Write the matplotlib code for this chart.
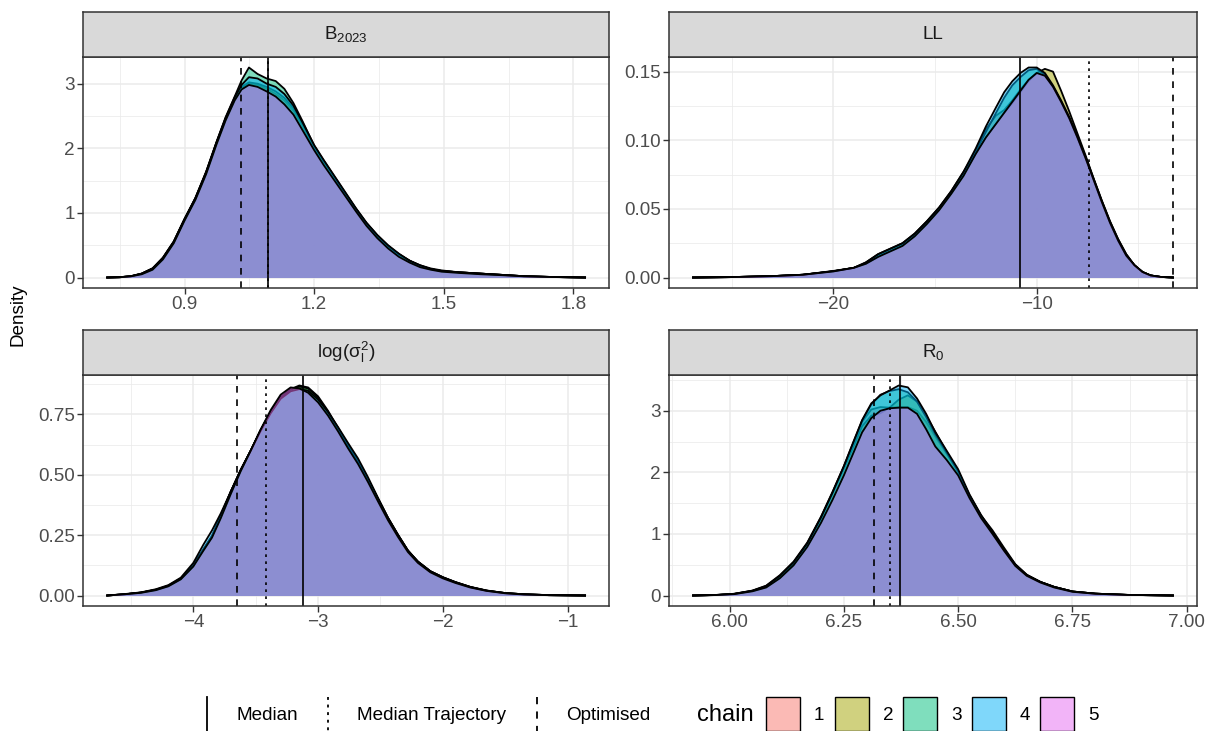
import matplotlib
matplotlib.use("Agg")
import matplotlib.pyplot as plt
from matplotlib.patches import Rectangle

plt.rcParams['font.family'] = ['Liberation Sans', 'DejaVu Sans']
plt.rcParams['mathtext.fontset'] = 'custom'
plt.rcParams['mathtext.rm'] = 'Liberation Sans'
plt.rcParams['mathtext.it'] = 'Liberation Sans:italic'

# ---- data ----
chainNames = ['1', '2', '3', '4', '5']
chainColors = ['#F8766D', '#A3A500', '#00BF7D', '#00B0F6', '#E76BF3']

b2023X = [0.721, 0.751, 0.776, 0.801, 0.826, 0.850, 0.875, 0.900, 0.925, 0.950, 0.974, 0.995, 1.016, 1.032,
          1.049, 1.069, 1.090, 1.111, 1.131, 1.152, 1.173, 1.200, 1.222, 1.247, 1.272, 1.297, 1.321, 1.346,
          1.371, 1.396, 1.421, 1.445, 1.470, 1.495, 1.536, 1.586, 1.636, 1.685, 1.751, 1.827]
b2023Dens = [
    [0.0, 0.005, 0.02, 0.06, 0.14, 0.30, 0.55, 0.90, 1.22, 1.62, 2.08, 2.45, 2.76, 2.93, 3.00, 2.98, 2.92, 2.84, 2.74, 2.58,
     2.34, 2.00, 1.78, 1.53, 1.29, 1.05, 0.83, 0.64, 0.48, 0.35, 0.25, 0.18, 0.13, 0.10, 0.08, 0.06, 0.04, 0.02, 0.008, 0.0],
    [0.0, 0.005, 0.02, 0.06, 0.14, 0.31, 0.56, 0.91, 1.23, 1.63, 2.09, 2.46, 2.77, 2.95, 3.02, 3.00, 2.95, 2.88, 2.78, 2.62,
     2.37, 2.02, 1.80, 1.55, 1.30, 1.06, 0.84, 0.65, 0.49, 0.36, 0.26, 0.18, 0.13, 0.10, 0.08, 0.06, 0.04, 0.02, 0.008, 0.0],
    [0.0, 0.005, 0.02, 0.06, 0.14, 0.30, 0.55, 0.90, 1.23, 1.64, 2.10, 2.48, 2.80, 3.05, 3.25, 3.15, 3.08, 3.04, 2.92, 2.70,
     2.42, 2.04, 1.81, 1.56, 1.31, 1.06, 0.84, 0.65, 0.49, 0.36, 0.26, 0.19, 0.13, 0.10, 0.08, 0.06, 0.04, 0.02, 0.008, 0.0],
    [0.0, 0.005, 0.02, 0.06, 0.14, 0.30, 0.55, 0.90, 1.22, 1.63, 2.09, 2.47, 2.79, 2.98, 3.10, 3.08, 3.00, 2.95, 2.84, 2.66,
     2.40, 2.05, 1.82, 1.57, 1.32, 1.07, 0.85, 0.66, 0.50, 0.37, 0.26, 0.19, 0.14, 0.11, 0.08, 0.06, 0.04, 0.02, 0.008, 0.0],
    [0.0, 0.004, 0.018, 0.05, 0.12, 0.28, 0.53, 0.88, 1.20, 1.60, 2.06, 2.43, 2.74, 2.91, 2.98, 2.95, 2.88, 2.80, 2.68, 2.52,
     2.28, 1.97, 1.74, 1.50, 1.26, 1.02, 0.80, 0.61, 0.45, 0.32, 0.23, 0.16, 0.12, 0.09, 0.07, 0.05, 0.035, 0.018, 0.007, 0.0],
]

llX = [-26.9, -25.0, -23.0, -21.5, -20.0, -19.0, -18.4, -17.8, -17.2, -16.6, -16.0, -15.4, -14.8, -14.2,
       -13.6, -13.0, -12.5, -12.0, -11.6, -11.2, -10.8, -10.4, -10.0, -9.6, -9.2, -8.8, -8.4, -8.0,
       -7.6, -7.2, -6.8, -6.4, -6.0, -5.6, -5.2, -4.8, -4.4, -3.9, -3.3]
llDens = [
    [0.0, 0.0003, 0.001, 0.002, 0.0045, 0.007, 0.010, 0.016, 0.020, 0.024, 0.031, 0.040, 0.050, 0.062, 0.075, 0.091,
     0.108, 0.118, 0.122, 0.129, 0.137, 0.144, 0.149, 0.147, 0.139, 0.128, 0.116, 0.102, 0.087, 0.071, 0.055, 0.040,
     0.027, 0.016, 0.009, 0.004, 0.0015, 0.0004, 0.0],
    [0.0, 0.0003, 0.001, 0.002, 0.0045, 0.007, 0.010, 0.015, 0.020, 0.024, 0.031, 0.040, 0.050, 0.062, 0.075, 0.090,
     0.102, 0.112, 0.120, 0.127, 0.135, 0.143, 0.149, 0.152, 0.150, 0.136, 0.121, 0.105, 0.089, 0.072, 0.056, 0.041,
     0.028, 0.017, 0.009, 0.004, 0.0015, 0.0004, 0.0],
    [0.0, 0.0003, 0.001, 0.002, 0.0046, 0.007, 0.011, 0.017, 0.021, 0.025, 0.032, 0.041, 0.051, 0.063, 0.077, 0.092,
     0.106, 0.120, 0.131, 0.140, 0.146, 0.151, 0.152, 0.148, 0.139, 0.128, 0.116, 0.102, 0.087, 0.071, 0.055, 0.040,
     0.027, 0.016, 0.009, 0.004, 0.0015, 0.0004, 0.0],
    [0.0, 0.0003, 0.001, 0.002, 0.0048, 0.007, 0.011, 0.017, 0.021, 0.025, 0.032, 0.041, 0.051, 0.063, 0.077, 0.094,
     0.110, 0.124, 0.135, 0.143, 0.149, 0.153, 0.153, 0.149, 0.140, 0.129, 0.117, 0.103, 0.088, 0.072, 0.056, 0.041,
     0.028, 0.017, 0.009, 0.004, 0.0015, 0.0004, 0.0],
    [0.0, 0.0003, 0.001, 0.002, 0.0044, 0.007, 0.010, 0.015, 0.019, 0.023, 0.030, 0.039, 0.049, 0.061, 0.074, 0.090,
     0.102, 0.112, 0.120, 0.128, 0.136, 0.144, 0.149, 0.147, 0.139, 0.128, 0.116, 0.102, 0.087, 0.071, 0.055, 0.040,
     0.027, 0.016, 0.009, 0.004, 0.0015, 0.0004, 0.0],
]

sigmaX = [-4.69, -4.55, -4.42, -4.30, -4.20, -4.10, -4.00, -3.92, -3.85, -3.78, -3.70, -3.62, -3.54, -3.46,
          -3.38, -3.30, -3.22, -3.15, -3.08, -3.00, -2.92, -2.84, -2.76, -2.68, -2.60, -2.52, -2.44, -2.36,
          -2.28, -2.20, -2.10, -2.00, -1.90, -1.78, -1.65, -1.50, -1.35, -1.15, -0.86]
sigmaDens = [
    [0.0, 0.005, 0.012, 0.024, 0.040, 0.070, 0.125, 0.19, 0.245, 0.33, 0.43, 0.52, 0.60, 0.685, 0.76, 0.82, 0.85, 0.86,
     0.85, 0.81, 0.755, 0.69, 0.62, 0.555, 0.48, 0.40, 0.32, 0.25, 0.185, 0.14, 0.10, 0.075, 0.055, 0.035, 0.020, 0.010,
     0.005, 0.0015, 0.0],
    [0.0, 0.005, 0.012, 0.023, 0.039, 0.069, 0.124, 0.19, 0.243, 0.33, 0.43, 0.52, 0.60, 0.685, 0.76, 0.822, 0.855, 0.870,
     0.862, 0.825, 0.765, 0.695, 0.625, 0.558, 0.482, 0.402, 0.322, 0.252, 0.187, 0.141, 0.101, 0.076, 0.056, 0.036, 0.021,
     0.010, 0.005, 0.0015, 0.0],
    [0.0, 0.005, 0.012, 0.024, 0.041, 0.071, 0.126, 0.19, 0.248, 0.33, 0.43, 0.52, 0.60, 0.686, 0.761, 0.821, 0.853, 0.866,
     0.858, 0.820, 0.760, 0.692, 0.622, 0.556, 0.481, 0.401, 0.321, 0.251, 0.186, 0.140, 0.100, 0.075, 0.055, 0.035, 0.020,
     0.010, 0.005, 0.0015, 0.0],
    [0.0, 0.006, 0.013, 0.026, 0.043, 0.074, 0.135, 0.21, 0.270, 0.34, 0.43, 0.52, 0.60, 0.682, 0.755, 0.815, 0.846, 0.855,
     0.848, 0.812, 0.760, 0.698, 0.632, 0.568, 0.490, 0.405, 0.323, 0.252, 0.186, 0.140, 0.100, 0.075, 0.055, 0.035, 0.020,
     0.010, 0.005, 0.0015, 0.0],
    [0.0, 0.005, 0.011, 0.022, 0.038, 0.067, 0.120, 0.185, 0.240, 0.32, 0.42, 0.515, 0.60, 0.688, 0.768, 0.832, 0.862, 0.858,
     0.840, 0.800, 0.745, 0.680, 0.610, 0.545, 0.470, 0.390, 0.312, 0.243, 0.180, 0.135, 0.096, 0.071, 0.052, 0.033, 0.019,
     0.009, 0.004, 0.0012, 0.0],
]

r0X = [5.92, 5.97, 6.01, 6.05, 6.08, 6.11, 6.14, 6.17, 6.20, 6.225, 6.25, 6.27, 6.29, 6.31, 6.33, 6.35, 6.37, 6.39,
       6.41, 6.43, 6.45, 6.475, 6.50, 6.525, 6.55, 6.575, 6.60, 6.625, 6.65, 6.68, 6.71, 6.75, 6.80, 6.87, 6.97]
r0Dens = [
    [0.0, 0.008, 0.025, 0.075, 0.146, 0.31, 0.53, 0.84, 1.26, 1.66, 2.08, 2.44, 2.82, 3.02, 3.06, 3.05, 3.06, 3.06,
     3.00, 2.82, 2.58, 2.30, 2.00, 1.62, 1.30, 1.06, 0.78, 0.51, 0.34, 0.22, 0.14, 0.065, 0.03, 0.01, 0.0],
    [0.0, 0.007, 0.024, 0.072, 0.140, 0.30, 0.52, 0.83, 1.25, 1.65, 2.06, 2.40, 2.75, 2.92, 2.96, 3.05, 3.18, 3.25,
     3.15, 2.92, 2.66, 2.33, 2.01, 1.62, 1.29, 1.03, 0.75, 0.50, 0.33, 0.22, 0.14, 0.065, 0.03, 0.01, 0.0],
    [0.0, 0.009, 0.028, 0.080, 0.160, 0.33, 0.55, 0.86, 1.28, 1.68, 2.10, 2.47, 2.84, 3.10, 3.26, 3.32, 3.35, 3.30,
     3.15, 2.90, 2.62, 2.32, 2.02, 1.62, 1.29, 1.02, 0.74, 0.49, 0.33, 0.22, 0.14, 0.065, 0.03, 0.01, 0.0],
    [0.0, 0.009, 0.027, 0.078, 0.155, 0.32, 0.54, 0.85, 1.27, 1.67, 2.10, 2.48, 2.85, 3.12, 3.25, 3.33, 3.41, 3.38,
     3.20, 2.95, 2.65, 2.35, 2.05, 1.64, 1.31, 1.03, 0.75, 0.50, 0.33, 0.22, 0.14, 0.065, 0.03, 0.01, 0.0],
    [0.0, 0.007, 0.022, 0.068, 0.130, 0.28, 0.49, 0.79, 1.18, 1.55, 1.95, 2.30, 2.65, 2.88, 3.00, 3.04, 3.05, 3.05,
     2.95, 2.70, 2.42, 2.20, 1.95, 1.58, 1.26, 1.00, 0.73, 0.48, 0.32, 0.21, 0.13, 0.06, 0.028, 0.009, 0.0],
]

panelTitles = [r'$\mathregular{B_{2023}}$', 'LL', r'$\mathregular{log(\sigma_l^2)}$', r'$\mathregular{R_0}$']
medianVals = [1.093, -10.82, -3.123, 6.372]
medTrajVals = [1.093, -7.42, -3.417, 6.352]
optimVals = [1.030, -3.32, -3.648, 6.317]

xTicks = [[0.9, 1.2, 1.5, 1.8], [-20, -10], [-4, -3, -2, -1], [6.0, 6.25, 6.5, 6.75, 7.0]]
xTickLabels = [['0.9', '1.2', '1.5', '1.8'], ['\u221220', '\u221210'],
               ['\u22124', '\u22123', '\u22122', '\u22121'], ['6.00', '6.25', '6.50', '6.75', '7.00']]
yTicks = [[0, 1, 2, 3], [0, 0.05, 0.10, 0.15], [0, 0.25, 0.5, 0.75], [0, 1, 2, 3]]
yTickLabels = [['0', '1', '2', '3'], ['0.00', '0.05', '0.10', '0.15'],
               ['0.00', '0.25', '0.50', '0.75'], ['0', '1', '2', '3']]

W, H = 1211, 731
GRID = '#EBEBEB'
DARK = '#333333'
TXT = 13.6


def minors(ticks, lo, hi):
    step = ticks[1] - ticks[0]
    out = [t - step / 2 for t in ticks] + [ticks[-1] + step / 2]
    return [m for m in out if lo < m < hi]


def box(px_left, px_top, px_w, px_h):
    return [px_left / W, 1 - (px_top + px_h) / H, px_w / W, px_h / H]


def drawPanel(fig, rect, stripRect, k, xs, dens):
    ax = fig.add_axes(rect)
    for i in range(len(dens)):
        ax.fill_between(xs, 0, dens[i], color=chainColors[i], alpha=0.5, linewidth=0, zorder=3 + 2 * i)
        ax.plot(xs, dens[i], color='black', lw=1.3, zorder=4 + 2 * i, solid_joinstyle='round')

    ax.axvline(medianVals[k], color='black', lw=1.2, zorder=20)
    ax.axvline(medTrajVals[k], color='black', lw=1.2, dashes=(1.6, 2.6), zorder=20)
    ax.axvline(optimVals[k], color='black', lw=1.2, dashes=(4, 4), zorder=20)

    # ggplot style 5% expansion
    xr = xs[-1] - xs[0]
    ax.set_xlim(xs[0] - 0.05 * xr, xs[-1] + 0.05 * xr)
    top = max(max(d) for d in dens)
    ax.set_ylim(-0.05 * top, 1.05 * top)

    ax.set_xticks(xTicks[k])
    ax.set_xticklabels(xTickLabels[k])
    ax.set_yticks(yTicks[k])
    ax.set_yticklabels(yTickLabels[k])
    lo, hi = ax.get_xlim()
    for m in minors(xTicks[k], lo, hi):
        ax.axvline(m, color=GRID, lw=0.55, zorder=0)
    lo, hi = ax.get_ylim()
    for m in minors(yTicks[k], lo, hi):
        ax.axhline(m, color=GRID, lw=0.55, zorder=0)
    ax.grid(True, color=GRID, lw=1.1, zorder=0)
    ax.set_axisbelow(True)
    ax.tick_params(length=4, width=1, color=DARK, labelcolor='#4D4D4D', labelsize=TXT, pad=2)
    for s in ax.spines.values():
        s.set_color(DARK)
        s.set_linewidth(1.1)
        s.set_zorder(30)

    sax = fig.add_axes(stripRect)
    sax.set_facecolor('#D9D9D9')
    sax.set_xticks([])
    sax.set_yticks([])
    for s in sax.spines.values():
        s.set_color(DARK)
        s.set_linewidth(1.1)
    sax.text(0.5, 0.5, panelTitles[k], ha='center', va='center', fontsize=TXT, color='#1A1A1A',
             transform=sax.transAxes)
    return ax


fig = plt.figure(figsize=(W / 100, H / 100), dpi=100)

drawPanel(fig, box(83.3, 57, 525.7, 231), box(83.3, 12, 525.7, 45), 0, b2023X, b2023Dens)
drawPanel(fig, box(669, 57, 528, 231), box(669, 12, 528, 45), 1, llX, llDens)
drawPanel(fig, box(83.3, 375, 525.7, 231), box(83.3, 330, 525.7, 45), 2, sigmaX, sigmaDens)
drawPanel(fig, box(669, 375, 528, 231), box(669, 330, 528, 45), 3, r0X, r0Dens)

fig.text(18 / W, 1 - 315 / H, 'Density', rotation=90, ha='center', va='center', fontsize=TXT, color='black')

# legend drawn in pixel space along the bottom
lax = fig.add_axes([0, 0, 1, 60 / H])
lax.set_xlim(0, W)
lax.set_ylim(H, H - 60)
lax.axis('off')
ky0, ky1, kyc = 697, 733, 715
lax.plot([207, 207], [ky0, ky1], color='black', lw=1.3)
lax.text(236, kyc, 'Median', va='center', fontsize=TXT)
lax.plot([328, 328], [ky0, ky1], color='black', lw=1.3, dashes=(1.6, 2.6))
lax.text(357, kyc, 'Median Trajectory', va='center', fontsize=TXT)
lax.plot([537, 537], [ky0, ky1], color='black', lw=1.3, dashes=(4, 4))
lax.text(566, kyc, 'Optimised', va='center', fontsize=TXT)
lax.text(697, kyc, 'chain', va='center', fontsize=17)
bx = 766
for i in range(len(chainNames)):
    lax.add_patch(Rectangle((bx, ky0), 34, 34, facecolor=chainColors[i], alpha=0.5, lw=0))
    lax.add_patch(Rectangle((bx, ky0), 34, 34, facecolor='none', edgecolor='black', lw=1.0))
    lax.text(bx + 48, kyc, chainNames[i], va='center', fontsize=TXT)
    bx += 68.5

fig.savefig('out.png', dpi=100)
